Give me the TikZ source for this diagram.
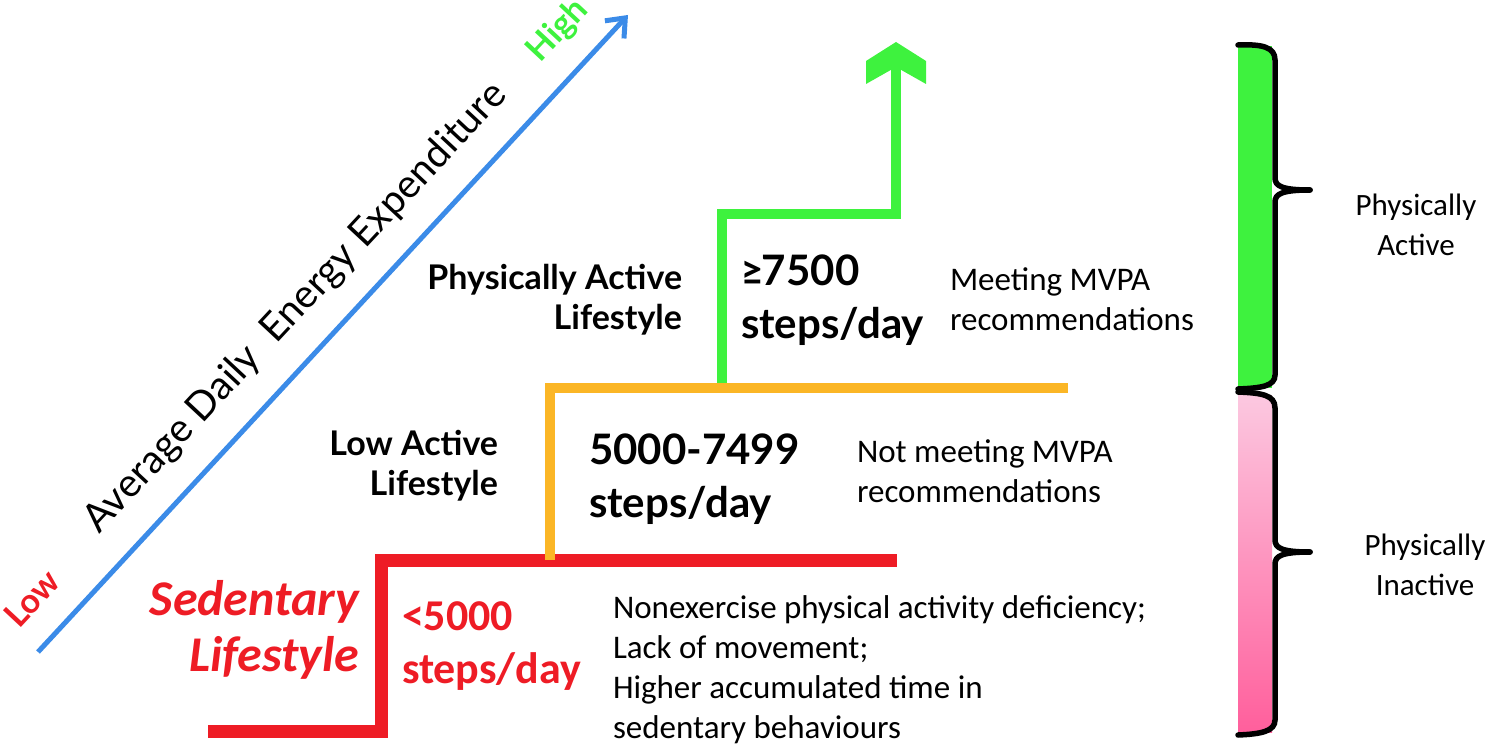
\documentclass[tikz,border=0pt]{standalone}
\usepackage{fontspec}
\setmainfont{Carlito}
\newfontfamily\gill{Lato}
\usetikzlibrary{arrows.meta}
\definecolor{cred}{HTML}{EE1C25}
\definecolor{corange}{HTML}{FBB626}
\definecolor{cgreen}{HTML}{3EF23E}
\definecolor{cblue}{HTML}{3B8BE8}
\definecolor{pinktop}{HTML}{FCC8E0}
\definecolor{pinkbot}{HTML}{FF5F9C}
\begin{document}
\begin{tikzpicture}[x=1pt,y=-1pt,
  every node/.style={inner sep=0pt,outer sep=0pt},
  stair/.style={line width=#1,line join=miter},
  desc/.style={anchor=west,align=left,font=\fontsize{33}{40}\selectfont},
  steps/.style={anchor=west,align=left,font=\gill\bfseries\fontsize{42}{53}\selectfont},
  lifelbl/.style={anchor=east,align=right,font=\gill\bfseries\fontsize{34}{40}\selectfont},
  sidelbl/.style={align=center,font=\fontsize{31}{40}\selectfont},
  bracepath/.style={line width=5.5pt,black,line cap=round}
]
\useasboundingbox (0,0) rectangle (1491,746);

% axis arrow
\coordinate (axs) at (38,652);
\coordinate (axe) at (628,15);
\draw[cblue,line width=5pt,-{Straight Barb[length=16pt,width=26pt,line width=5pt]}] (axs) -- (axe);
\node[rotate=47,font=\gill\fontsize{39.5}{40}\selectfont] (axlbl) at (296,308) {Average Daily\ \ Energy Expenditure};
\node[rotate=47,text=cred,font=\gill\bfseries\fontsize{34}{36}\selectfont] (low) at (32,598) {Low};
\node[rotate=47,text=cgreen,font=\gill\bfseries\fontsize{34}{36}\selectfont] (high) at (558,31) {High};

% staircase
\coordinate (r1) at (208,731);
\coordinate (r2) at (381,731);
\coordinate (r3) at (381,560);
\coordinate (r4) at (897,560);
\draw[cred,stair=13pt] (r1) -- (r2) -- (r3) -- (r4);
\coordinate (o1) at (550,560);
\coordinate (o2) at (550,388);
\coordinate (o3) at (1068,388);
\draw[corange,stair=10pt] (o1) -- (o2) -- (o3);
\coordinate (g1) at (722,383);
\coordinate (g2) at (722,214);
\coordinate (g3) at (896,214);
\coordinate (g4) at (896,66);
\draw[cgreen,stair=10pt] (g1) -- (g2) -- (g3) -- (g4);
\fill[cgreen] (896,42) -- (926,61) -- (926,84) -- (896,67) -- (866,84) -- (866,61) -- cycle;

% left labels
\node[lifelbl] (pal) at (682,300) {Physically Active\\Lifestyle};
\node[lifelbl] (lal) at (498,466) {Low Active\\Lifestyle};
\node[anchor=east,align=right,text=cred,font=\bfseries\itshape\fontsize{50}{56}\selectfont] (sed) at (359,630) {Sedentary\\Lifestyle};

% step counts
\node[steps] (s3) at (741,300) {{\fontspec{Carlito}\bfseries ≥}7500\\steps/day};
\node[steps] (s2) at (589,479) {5000-7499\\steps/day};
\node[anchor=west,align=left,text=cred,font=\bfseries\fontsize{44}{53}\selectfont] (s1) at (402,646) {<5000\\steps/day};

% descriptions
\node[desc] (d3) at (950,299) {Meeting MVPA\\recommendations};
\node[desc] (d2) at (857,471) {Not meeting MVPA\\recommendations};
\node[desc] (d1) at (613,670) {Nonexercise physical activity deficiency;\\Lack of movement;\\Higher accumulated time in\\sedentary behaviours};

% right bar
\fill[cgreen] (1238,46) rectangle (1272,388);
\shade[top color=pinktop,bottom color=pinkbot] (1238,395) rectangle (1272,732);
\draw[bracepath] (1238,45) .. controls (1262,44) and (1275,47) .. (1275,60) -- (1275,178)
  .. controls (1275,186) and (1282,190) .. (1310,190);
\draw[bracepath] (1310,190) .. controls (1282,190) and (1275,194) .. (1275,202) -- (1275,375)
  .. controls (1275,386) and (1262,388) .. (1238,389);
\draw[bracepath] (1238,392) .. controls (1262,393) and (1275,395) .. (1275,408) -- (1275,540)
  .. controls (1275,548) and (1282,552) .. (1310,552);
\draw[bracepath] (1310,552) .. controls (1282,552) and (1275,556) .. (1275,564) -- (1275,720)
  .. controls (1275,731) and (1262,734) .. (1238,735);
\node[sidelbl] (pa) at (1416,225) {Physically\\Active};
\node[sidelbl] (pi) at (1425,565) {Physically\\Inactive};
\end{tikzpicture}
\end{document}
